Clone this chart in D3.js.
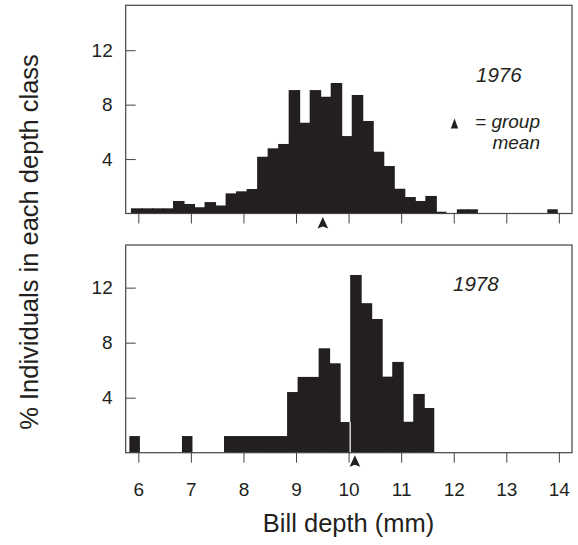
<!DOCTYPE html>
<html>
<head>
<meta charset="utf-8">
<script src="https://cdn.jsdelivr.net/npm/d3@7"></script>
<style>
  html, body { margin: 0; padding: 0; background: #fff; }
  svg { display: block; font-family: "Liberation Sans", Arial, Helvetica, sans-serif; }
</style>
</head>
<body>
<svg width="578" height="545"></svg>
<script>
// bin left edges (mm) and % of individuals; bins are 0.2 mm wide
const binStart1976 = [5.86, 6.06, 6.26, 6.46, 6.66, 6.86, 7.06, 7.26, 7.46, 7.66, 7.86, 8.06,
  8.26, 8.46, 8.66, 8.86, 9.06, 9.26, 9.46, 9.66, 9.86, 10.06, 10.26, 10.46, 10.66, 10.86,
  11.06, 11.26, 11.46, 11.66, 12.06, 12.26, 13.78];
const pct1976 = [0.38, 0.38, 0.38, 0.38, 0.92, 0.70, 0.46, 0.84, 0.59, 1.48, 1.63, 1.80,
  4.17, 4.79, 5.11, 9.07, 6.67, 9.07, 8.58, 9.59, 5.69, 8.71, 6.80, 4.54, 3.49, 1.82,
  1.21, 0.92, 1.29, 0.13, 0.31, 0.31, 0.31];

const binStart1978 = [5.83, 6.83, 7.63, 7.83, 8.03, 8.23, 8.43, 8.63, 8.83, 9.03, 9.23, 9.43,
  9.63, 9.83, 10.03, 10.23, 10.43, 10.63, 10.83, 11.03, 11.23, 11.43];
const pct1978 = [1.21, 1.21, 1.21, 1.21, 1.21, 1.21, 1.21, 1.21, 4.41, 5.51, 5.51, 7.59,
  6.50, 2.23, 12.92, 10.87, 9.72, 5.53, 6.60, 2.25, 4.27, 3.25];

const years = ["1976", "1978"];
const means = [9.51, 10.12];
const xTicks = [6, 7, 8, 9, 10, 11, 12, 13, 14];
const yTicks = [4, 8, 12];
const binWidth = 0.2;

const ink = "#231f20";
const svg = d3.select("svg");

const left = 125.7, right = 572;
const x = d3.scaleLinear().domain([5.76, 14.25]).range([left, right]);

const panels = [
  { year: years[0], starts: binStart1976, pct: pct1976, mean: means[0],
    top: 5.3, bottom: 213.5, ymax: 15.3, labels: false,
    yearPos: [476, 82] },
  { year: years[1], starts: binStart1978, pct: pct1978, mean: means[1],
    top: 245, bottom: 452.7, ymax: 15.1, labels: true,
    yearPos: [453, 291] }
];

panels.forEach((p, k) => {
  const y = d3.scaleLinear().domain([0, p.ymax]).range([p.bottom, p.top]);
  const g = svg.append("g");

  const bins = p.starts.map((s, i) => ({ x0: s, x1: s + binWidth, v: p.pct[i] }));
  // bars; each one reaches under its right neighbour so no seams show
  g.selectAll("rect.bar")
    .data(bins)
    .join("rect")
    .attr("class", "bar")
    .attr("x", d => x(d.x0))
    .attr("width", (d, i) => {
      const next = bins[i + 1];
      const joined = next && Math.abs(next.x0 - d.x1) < 1e-6;
      return x(d.x1) - x(d.x0) + (joined ? 1 : 0);
    })
    .attr("y", d => y(d.v))
    .attr("height", d => y(0) - y(d.v))
    .attr("fill", ink);

  // thin white gap between the two bins around 10 mm in 1978
  if (k === 1) {
    g.append("line")
      .attr("x1", x(10.03)).attr("x2", x(10.03))
      .attr("y1", y(0)).attr("y2", y(2.23))
      .attr("stroke", "#fff").attr("stroke-width", 1.2);
  }

  // y axis, ticks inside the frame
  g.append("g")
    .attr("transform", `translate(${left},0)`)
    .call(d3.axisLeft(y).tickValues(yTicks).tickSizeInner(-10).tickSizeOuter(0).tickPadding(13))
    .call(a => a.select(".domain").remove())
    .call(a => a.selectAll("line").attr("stroke", "#444"))
    .call(a => a.selectAll("text").attr("font-size", 19).attr("fill", ink).attr("font-family", null));

  // x axis, ticks outside
  g.append("g")
    .attr("transform", `translate(0,${p.bottom})`)
    .call(d3.axisBottom(x).tickValues(xTicks).tickSizeInner(10).tickSizeOuter(0).tickPadding(20)
      .tickFormat(p.labels ? d3.format("d") : ""))
    .call(a => a.select(".domain").remove())
    .call(a => a.selectAll("line").attr("stroke", "#444"))
    .call(a => a.selectAll("text").attr("font-size", 19).attr("fill", ink).attr("font-family", null));

  // frame
  g.append("rect")
    .attr("x", left).attr("y", p.top)
    .attr("width", right - left).attr("height", p.bottom - p.top)
    .attr("fill", "none").attr("stroke", "#444").attr("stroke-width", 1.2);

  // mean marker
  const mx = x(p.mean), my = p.bottom + (k === 0 ? 3.5 : 2.5);
  g.append("path")
    .attr("d", `M${mx - 5.3},${my + 11.5} L${mx},${my} L${mx + 5.3},${my + 11.5} L${mx},${my + 9.5} Z`)
    .attr("fill", ink);

  // year label
  g.append("text")
    .attr("x", p.yearPos[0]).attr("y", p.yearPos[1])
    .attr("font-size", 20.5).attr("font-style", "italic").attr("fill", ink)
    .text(p.year);
});

// legend for the mean marker
const lg = svg.append("g");
lg.append("path")
  .attr("d", "M450.8,128.5 L454.5,118.5 L458.2,128.5 Z")
  .attr("fill", ink);
lg.append("text")
  .attr("x", 540).attr("y", 127.7)
  .attr("text-anchor", "end")
  .attr("font-size", 19).attr("font-style", "italic").attr("fill", ink)
  .text("= group");
lg.append("text")
  .attr("x", 540).attr("y", 149)
  .attr("text-anchor", "end")
  .attr("font-size", 19).attr("font-style", "italic").attr("fill", ink)
  .text("mean");

// axis titles
svg.append("text")
  .attr("x", (x(6) + x(14)) / 2).attr("y", 532)
  .attr("text-anchor", "middle")
  .attr("font-size", 25.5).attr("fill", ink)
  .text("Bill depth (mm)");

svg.append("text")
  .attr("transform", "translate(38,242) rotate(-90)")
  .attr("text-anchor", "middle")
  .attr("font-size", 25.5).attr("fill", ink)
  .text("% Individuals in each depth class");
</script>
</body>
</html>
